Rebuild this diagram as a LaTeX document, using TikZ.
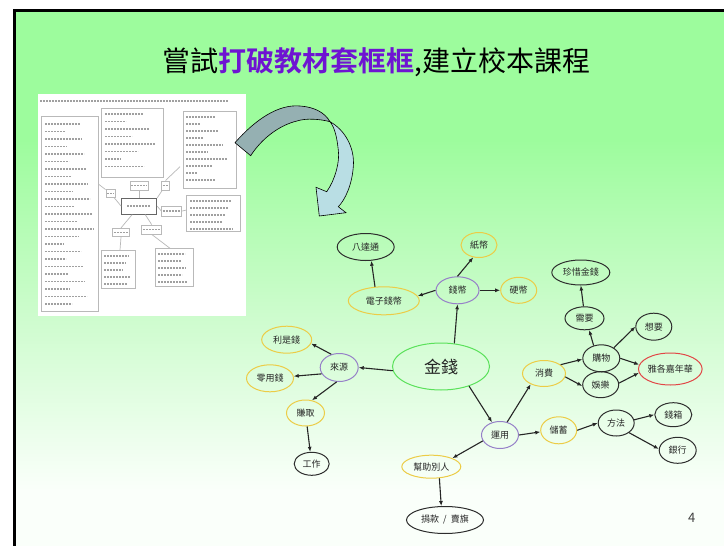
\documentclass[tikz,border=0pt]{standalone}
\usepackage{fontspec}
\setmainfont{Noto Sans CJK TC}[BoldFont={Noto Sans CJK TC Bold}]
\usetikzlibrary{shapes.geometric,arrows.meta}
\definecolor{gA}{RGB}{157,252,157}
\definecolor{gB}{RGB}{205,252,205}
\definecolor{gC}{RGB}{250,255,250}
\definecolor{ttlpur}{RGB}{110,20,210}
\definecolor{ylw}{RGB}{236,204,70}
\definecolor{prp}{RGB}{150,128,200}
\definecolor{grn}{RGB}{90,225,90}
\definecolor{rd}{RGB}{225,70,70}
\definecolor{blkc}{RGB}{45,45,45}
\definecolor{arrdark}{RGB}{149,176,178}
\definecolor{arrlight}{RGB}{185,222,228}
\definecolor{docline}{RGB}{160,160,160}
\definecolor{docbox}{RGB}{185,185,185}
\tikzset{
  mm/.style={ellipse, draw, line width=1pt, inner sep=0pt, text=black!85,
    font=\fontsize{9}{9}\selectfont},
  yel/.style={mm, draw=ylw},
  pur/.style={mm, draw=prp},
  blk/.style={mm, draw=blkc},
  grnn/.style={mm, draw=grn},
  redd/.style={mm, draw=rd},
  wh/.style 2 args={minimum width=#1pt, minimum height=#2pt},
  arr/.style={-{Latex[length=5pt,width=4pt]}, line width=1.1pt, black!85},
  txt/.style={docline, line width=1.6pt, dash pattern=on 2pt off 1pt},
  dbox/.style={docbox, line width=0.8pt},
  dlab/.style={draw=docbox, line width=0.8pt, fill=white, inner sep=0pt},
  dlink/.style={docbox, line width=0.7pt}
}
\begin{document}
\begin{tikzpicture}[x=1pt,y=-1pt]
\useasboundingbox (0,0) rectangle (724,546);
% background slide
\fill[gA] (15,11) rectangle (724,140);
\shade[top color=gA, bottom color=gC, middle color=gB] (15,139.5) rectangle (724,490);
\fill[gC] (15,489.5) rectangle (724,546);
\draw[black, line width=3pt] (13,10.5) -- (724,10.5);
\draw[black, line width=3pt] (14.5,9) -- (14.5,546);
% title
\node (title) at (376.5,62) {\fontsize{28}{28}\selectfont 嘗試\textcolor{ttlpur}{\bfseries 打破教材套框框},建立校本課程};
% scanned document
\fill[white] (38,94) rectangle (246,316);
\draw[txt] (40,101) -- (228,101);
\draw[dbox] (41.7,116.7) rectangle (98.3,311.7);
\foreach \y [count=\i] in {124,131.5,...,305} \draw[txt] (45,\y) -- ++({18+mod(\i*17,32)},0);
\draw[dbox] (101.7,108.3) rectangle (163.3,177.3);
\foreach \y [count=\i] in {114,121.5,...,173} \draw[txt] (105,\y) -- ++({15+mod(\i*23,40)},0);
\draw[dbox] (183.3,111.7) rectangle (236,188.3);
\foreach \y [count=\i] in {117,124,...,185} \draw[txt] (186,\y) -- ++({10+mod(\i*19,34)},0);
\draw[dbox] (186.7,195) rectangle (240,231.7);
\foreach \y [count=\i] in {201,208,...,229} \draw[txt] (190,\y) -- ++({30+mod(\i*11,14)},0);
\draw[dbox] (101.7,250) rectangle (135,288.3);
\foreach \y [count=\i] in {256,263,...,285} \draw[txt] (104,\y) -- ++({18+mod(\i*7,10)},0);
\draw[dbox] (155,248.3) rectangle (193.3,286.7);
\foreach \y [count=\i] in {254,261,...,283} \draw[txt] (158,\y) -- ++({22+mod(\i*5,9)},0);
\node[draw=black!60, line width=1pt, fill=white, minimum width=35pt, minimum height=15.7pt, inner sep=0pt] (dc) at (139.2,206.2) {};
\draw[txt] (127,206.2) -- (151,206.2);
\node[dlab, minimum width=9pt, minimum height=8pt] (dl1) at (110.5,193.3) {};
\node[dlab, minimum width=18pt, minimum height=9pt] (dl2) at (139.2,185.4) {};
\node[dlab, minimum width=8pt, minimum height=9pt] (dl3) at (165.5,185.4) {};
\node[dlab, minimum width=20pt, minimum height=10pt] (dl4) at (171.7,211) {};
\node[dlab, minimum width=16.6pt, minimum height=8.4pt] (dl5) at (121,232.5) {};
\node[dlab, minimum width=20pt, minimum height=9pt] (dl6) at (151.7,229.5) {};
\foreach \n in {dl1,dl2,dl3,dl4,dl5,dl6} \draw[txt, line width=1.2pt] ([xshift=1.5pt]\n.west) -- ([xshift=-1.5pt]\n.east);
\draw[dlink] (98.3,184) -- (dl1) -- (dc.west);
\draw[dlink] (dl2) -- (dc.north);
\draw[dlink] (dl3) -- (dc.north east);
\draw[dlink] (dl3.north) -- (180,166.7);
\draw[dlink] (dc.east) -- (dl4.west);
\draw[dlink] (dl4.east) -- (186.7,210);
\draw[dlink] (dc.south) ++(-7,0) -- (dl5.north);
\draw[dlink] (dl5.south) -- (120,250);
\draw[dlink] (dc.south) ++(6,0) -- (dl6.north);
\draw[dlink] (dl6.south) -- (170,248.3);
% curved arrow
\filldraw[fill=arrlight, draw=black, line width=0.6pt]
  (330,121.7) .. controls (345,130) and (355,148) .. (353.3,166.7)
  .. controls (352,185) and (345,200) .. (338.3,206.7)
  -- (346,212.7) -- (319.3,216) -- (316,187.3) -- (326.7,191.7)
  .. controls (335,180) and (340,162) .. (338.3,150)
  .. controls (337,138) and (335,128) .. (330,121.7) -- cycle;
\filldraw[fill=arrdark, draw=black, line width=0.6pt]
  (235,142.7) .. controls (255,120) and (278,104) .. (300,106)
  .. controls (315,107) and (325,113) .. (330,121.7)
  .. controls (320,119) and (306,118) .. (297,121)
  .. controls (280,125) and (262,138) .. (250.7,155.7) -- cycle;
% mind map nodes
\node[grnn, wh={97}{47}, font=\fontsize{17}{17}\selectfont] (jq) at (441,366.5) {金錢};
\node[pur, wh={43}{27}] (qb) at (457.5,290.3) {錢幣};
\node[yel, wh={36}{25}] (zb) at (479,245) {紙幣};
\node[yel, wh={36}{26}] (yb) at (518.7,290.3) {硬幣};
\node[yel, wh={71}{28}] (dz) at (383.8,300.8) {電子錢幣};
\node[blk, wh={57}{27}] (bdt) at (365.7,247) {八達通};
\node[pur, wh={38}{28}] (ly) at (339.2,367.5) {來源};
\node[yel, wh={50}{27}] (lsq) at (286.7,339.7) {利是錢};
\node[yel, wh={47}{27}] (lyq) at (270,378.3) {零用錢};
\node[yel, wh={38}{26}] (zq) at (305.5,413) {賺取};
\node[blk, wh={35}{23}] (gz) at (311.7,463.8) {工作};
\node[pur, wh={37}{27}] (yy) at (500,435) {運用};
\node[yel, wh={43}{26}] (xf) at (544,373.5) {消費};
\node[blk, wh={37}{27}] (gw) at (601.3,358.3) {購物};
\node[blk, wh={36}{26}] (yl) at (600.7,384.7) {娛樂};
\node[blk, wh={39}{23}] (xy) at (584.5,318.3) {需要};
\node[blk, wh={58}{25}] (zx) at (580.8,272.5) {珍惜金錢};
\node[blk, wh={36}{27}] (xiang) at (653.8,326.7) {想要};
\node[redd, wh={59}{32}] (jn) at (670.3,369) {雅各嘉年華};
\node[yel, wh={36}{27}] (cx) at (558.7,430.3) {儲蓄};
\node[blk, wh={36}{26}] (ff) at (616.2,423) {方法};
\node[blk, wh={37}{24}] (qx) at (673.3,414.7) {錢箱};
\node[blk, wh={37}{26}] (yh) at (677.7,450.3) {銀行};
\node[yel, wh={59}{23}] (bz) at (431.3,466.7) {幫助別人};
\node[blk, wh={77}{27}] (jk) at (445,520) {捐款~~/~~賣旗};
% arrows
\draw[arr] (jq.60) -- (qb.south);
\draw[arr] (qb.north) -- (zb.245);
\draw[arr] (qb.east) -- (yb.west);
\draw[arr] (qb.west) -- (dz.8);
\draw[arr] (dz.122) -- (bdt.292);
\draw[arr] (jq.185) -- (ly.east);
\draw[arr] (ly.121) -- (lsq.351);
\draw[arr] (ly.200) -- (lyq.5);
\draw[arr] (ly.260) -- (zq.63);
\draw[arr] (zq) -- (gz);
\draw[arr] (jq.325) -- (yy.122);
\draw[arr] (yy.61) -- (xf.219);
\draw[arr] (yy.east) -- (cx.185);
\draw[arr] (cx.east) -- (ff.west);
\draw[arr] (ff.10) -- (qx.west);
\draw[arr] (ff.323) -- (yh.176);
\draw[arr] (yy.199) -- (bz.22);
\draw[arr] (bz.305) -- (jk.105);
\draw[arr] (xf.28) -- (gw.183);
\draw[arr] (xf.351) -- (yl.184);
\draw[arr] (gw.121) -- (xy.292);
\draw[arr] (xy.95) -- (zx.south);
\draw[arr] (gw.40) -- (xiang.west);
\draw[arr] (gw.east) -- (jn.172);
\draw[arr] (yl.5) -- (jn.187);
% page number
\node[text=black!75, font=\fontsize{13}{13}\selectfont] (pg) at (691.7,518.3) {4};
\end{tikzpicture}
\end{document}
